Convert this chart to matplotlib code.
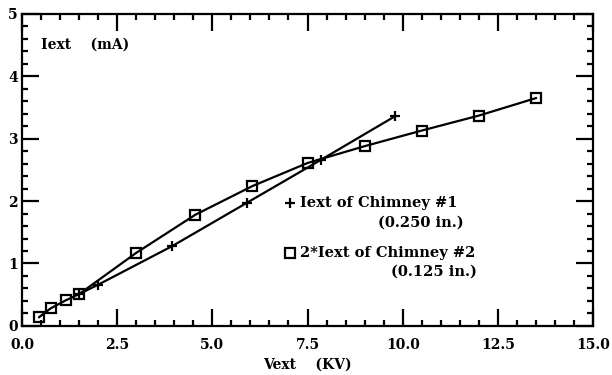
import matplotlib.pyplot as plt
from matplotlib.ticker import MultipleLocator

# Data
v_chim1 = [1.5, 2.0, 3.95, 5.9, 7.85, 9.8]
i_chim1 = [0.51, 0.66, 1.28, 1.97, 2.66, 3.36]

v_chim2 = [0.45, 0.75, 1.15, 1.5, 3.0, 4.55, 6.05, 7.5, 9.0, 10.5, 12.0, 13.5]
i_chim2 = [0.14, 0.28, 0.41, 0.51, 1.17, 1.78, 2.24, 2.61, 2.88, 3.13, 3.37, 3.65]

xticks = [0.0, 2.5, 5.0, 7.5, 10.0, 12.5, 15.0]
yticks = [0, 1, 2, 3, 4, 5]


def main():
    plt.rcParams['font.family'] = 'DejaVu Serif'
    plt.rcParams['font.weight'] = 'bold'

    fig = plt.figure(figsize=(6.12, 3.75), dpi=100)
    ax = fig.add_axes([0.036, 0.131, 0.933, 0.832])

    ax.plot(v_chim1, i_chim1, color='black', lw=1.6, marker='+', ms=7, mew=1.6)
    ax.plot(v_chim2, i_chim2, color='black', lw=1.6, marker='s', ms=6.5,
            mfc='none', mew=1.6)

    ax.set_xlim(0, 15)
    ax.set_ylim(0, 5)
    ax.set_xticks(xticks)
    ax.set_xticklabels(['%.1f' % v for v in xticks])
    ax.set_yticks(yticks)
    ax.xaxis.set_minor_locator(MultipleLocator(0.5))
    ax.yaxis.set_minor_locator(MultipleLocator(0.2))
    ax.tick_params(which='both', direction='in', top=True, right=True,
                   width=1.6, labelsize=10)
    ax.tick_params(which='major', length=12, pad=9)
    ax.tick_params(which='minor', length=4)
    ax.tick_params(axis='y', pad=3)
    for s in ax.spines.values():
        s.set_linewidth(1.6)

    ax.set_xlabel('Vext    (KV)', fontsize=10, fontweight='bold', labelpad=4)
    ax.text(0.5, 4.5, 'Iext    (mA)', fontsize=10, fontweight='bold', va='center')

    # legend drawn as text
    fs = 10.5
    ax.plot([7.05], [1.97], color='black', marker='+', ms=7, mew=1.6)
    ax.text(7.3, 1.97, 'Iext of Chimney #1', fontsize=fs, fontweight='bold', va='center')
    ax.text(11.6, 1.65, '(0.250 in.)', fontsize=fs, fontweight='bold', va='center', ha='right')
    ax.plot([7.05], [1.17], color='black', marker='s', ms=6.5, mfc='none', mew=1.6)
    ax.text(7.3, 1.17, '2*Iext of Chimney #2', fontsize=fs, fontweight='bold', va='center')
    ax.text(11.95, 0.87, '(0.125 in.)', fontsize=fs, fontweight='bold', va='center', ha='right')

    fig.savefig('out.png', dpi=100)


main()
